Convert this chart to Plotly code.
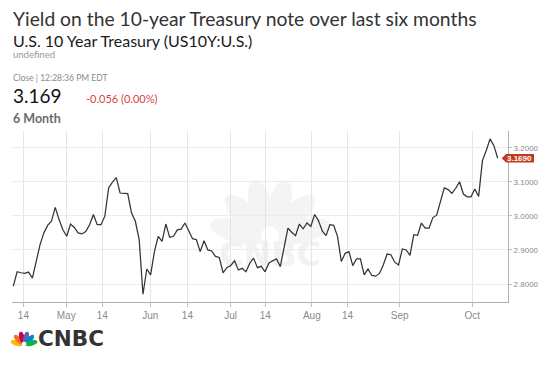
import math
import plotly.graph_objects as go

# ---------------- data ----------------
yields = [
    2.794, 2.836, 2.833, 2.831, 2.835, 2.817, 2.866, 2.915, 2.950, 2.972,
    2.984, 3.025, 2.989, 2.959, 2.940, 2.976, 2.966, 2.950, 2.947, 2.954,
    2.974, 3.004, 2.974, 2.974, 2.999, 3.082, 3.099, 3.112, 3.067, 3.066,
    3.065, 3.008, 2.984, 2.930, 2.770, 2.844, 2.827, 2.895, 2.940, 2.925,
    2.976, 2.937, 2.940, 2.959, 2.961, 2.979, 2.954, 2.933, 2.930, 2.895,
    2.927, 2.900, 2.897, 2.881, 2.878, 2.833, 2.848, 2.854, 2.868, 2.841,
    2.846, 2.836, 2.861, 2.876, 2.848, 2.852, 2.836, 2.861, 2.868, 2.874,
    2.851, 2.910, 2.964, 2.952, 2.942, 2.976, 2.962, 2.979, 2.969, 3.004,
    2.986, 2.956, 2.942, 2.974, 2.972, 2.940, 2.866, 2.890, 2.895, 2.854,
    2.874, 2.874, 2.827, 2.844, 2.825, 2.823, 2.831, 2.856, 2.888, 2.886,
    2.864, 2.856, 2.903, 2.900, 2.884, 2.945, 2.943, 2.979, 2.964, 2.964,
    2.995, 3.002, 3.041, 3.082, 3.077, 3.066, 3.081, 3.100, 3.064, 3.056,
    3.056, 3.079, 3.057, 3.162, 3.192, 3.226, 3.206, 3.169,
]
session_index = list(range(len(yields)))

x_tick_labels = ["14", "May", "14", "Jun", "14", "Jul", "14", "Aug", "14", "Sep", "Oct"]
x_tick_index = [2.65, 13.87, 23.33, 35.92, 45.65, 56.95, 66.05, 78.27, 87.63, 101.32, 120.33]
y_tick_values = [2.8, 2.9, 3.0, 3.1, 3.2]

last_close = 3.169
change_text = "-0.056 (0.00%)"

# ---------------- geometry ----------------
# the page body keeps the browser's default 8px margin, so the figure is
# slightly smaller than the window and page coordinates are offset by 8px
OFF = 8
W, H = 542, 361
ML, MR, MT, MB = 4, 42, 123, 67
PW, PH = W - ML - MR, H - MT - MB
X_RANGE = [-0.34, 129.7]
Y_RANGE = [2.7472, 3.249]


def X(px):
    return (px - OFF - ML) / PW


def Y(py):
    return (H - MB - (py - OFF)) / PH


def petal_path(cx, cy, ang_deg, d, a, b, n=28):
    t = math.radians(ang_deg)
    ex, ey = cx + d * math.cos(t), cy - d * math.sin(t)
    pts = []
    for k in range(n):
        u = 2 * math.pi * k / n
        lx, ly = a * math.cos(u), b * math.sin(u)
        px = ex + lx * math.cos(t) - ly * math.sin(t)
        py = ey - (lx * math.sin(t) + ly * math.cos(t))
        pts.append((X(px), Y(py)))
    return "M " + " L ".join(f"{p[0]:.5f},{p[1]:.5f}" for p in pts) + " Z"


def ellipse_path(cx, cy, rx, ry, n=24):
    pts = [(X(cx + rx * math.cos(2 * math.pi * k / n)),
            Y(cy + ry * math.sin(2 * math.pi * k / n))) for k in range(n)]
    return "M " + " L ".join(f"{p[0]:.5f},{p[1]:.5f}" for p in pts) + " Z"


fig = go.Figure()
fig.add_trace(go.Scatter(
    x=session_index, y=yields, mode="lines",
    line=dict(color="#333333", width=1.25),
    hoverinfo="skip", showlegend=False,
))

shapes = []
# faint watermark peacock + wordmark (kept below the line)
for ang in [165, 135, 105, 75, 45, 15]:
    shapes.append(dict(type="path", xref="paper", yref="paper", layer="below",
                       path=petal_path(270, 240, ang, 33, 29, 11.5),
                       fillcolor="#f4f4f4", line=dict(width=0)))
shapes.append(dict(type="path", xref="paper", yref="paper", layer="below",
                   path=ellipse_path(270, 236, 9, 9), fillcolor="#ffffff", line=dict(width=0)))
shapes.append(dict(type="rect", xref="paper", yref="paper", layer="below",
                   x0=X(200), x1=X(340), y0=Y(266), y1=Y(238),
                   fillcolor="rgba(0,0,0,0)", line=dict(width=0),
                   label=dict(text="<b>CNBC</b>", textposition="middle center",
                              font=dict(size=33, color="#f2f2f2",
                                        family="'DejaVu Sans', Arial, sans-serif"))))

# CNBC logo peacock (bottom left)
logo_colors = ["#fcb711", "#f37021", "#cc004c", "#6460aa", "#0089d0", "#0db14b"]
for ang, col in zip([165, 135, 105, 75, 45, 15], logo_colors):
    shapes.append(dict(type="path", xref="paper", yref="paper", layer="above",
                       path=petal_path(24, 345, ang, 7.4, 6.4, 2.7),
                       fillcolor=col, line=dict(width=0)))
shapes.append(dict(type="path", xref="paper", yref="paper", layer="above",
                   path=ellipse_path(24, 344, 2.3, 2.3), fillcolor="#ffffff", line=dict(width=0)))

# last value tag on the right axis
half = 4.2 / (PH / (Y_RANGE[1] - Y_RANGE[0]))
yv = yields[-1]
tag_path = (f"M {X(501.7):.5f},{yv:.5f} L {X(506):.5f},{yv + half:.5f} "
            f"L {X(534):.5f},{yv + half:.5f} L {X(534):.5f},{yv - half:.5f} "
            f"L {X(506):.5f},{yv - half:.5f} Z")
shapes.append(dict(type="path", xref="paper", yref="y", layer="above",
                   path=tag_path, fillcolor="#c23a1c", line=dict(width=0)))

FONT = "Lato, 'Open Sans', Arial, sans-serif"
ann = []


def text(x, y, s, size, color, weight="normal", family=FONT, anchor="left"):
    ann.append(dict(x=X(x), y=Y(y), xref="paper", yref="paper", text=s,
                    showarrow=False, xanchor=anchor, yanchor="middle",
                    font=dict(size=size, color=color, family=family, weight=weight)))


text(11, 18.5, "Yield on the 10-year Treasury note over last six months", 19.3, "#333333")
text(11, 40, "U.S. 10 Year Treasury (US10Y:U.S.)", 16, "#1a1a1a")
text(11, 54.5, "undefined", 9.5, "#9a9a9a")
text(11, 78.5, "Close | 12:28:36 PM EDT", 8.5, "#8a8a8a")
text(11, 95, f"{last_close:.3f}", 19, "#111111")
text(84, 98.5, change_text, 11, "#d6453d")
text(11, 118, "6 Month", 12.5, "#6a6a6a", weight="bold")
text(36, 338.5, "<b>CNBC</b>", 21.5, "#333333", family="'DejaVu Sans', Arial, sans-serif")

ann.append(dict(x=X(519.5), y=yv, xref="paper", yref="y", text=f"<b>{yv:.4f}</b>",
                showarrow=False, xanchor="center", yanchor="middle",
                font=dict(size=8, color="#ffffff", family="Arial, sans-serif")))

fig.update_layout(
    width=W, height=H,
    margin=dict(l=ML, r=MR, t=MT, b=MB, pad=0),
    paper_bgcolor="#ffffff", plot_bgcolor="#ffffff",
    shapes=shapes, annotations=ann,
    showlegend=False,
    xaxis=dict(range=X_RANGE, tickmode="array", tickvals=x_tick_index, ticktext=x_tick_labels,
               showgrid=True, gridcolor="#e4e4e4", gridwidth=1, zeroline=False,
               showline=True, linecolor="#b0b0b0", linewidth=1,
               ticks="outside", ticklen=4, tickcolor="#c0c0c0",
               tickfont=dict(size=10, color="#8a8a8a", family="Arial, sans-serif"),
               fixedrange=True),
    yaxis=dict(range=Y_RANGE, side="right", tickmode="array", tickvals=y_tick_values,
               tickformat=".4f", showgrid=True, gridcolor="#ececec", gridwidth=1,
               zeroline=False, showline=True, linecolor="#b0b0b0", linewidth=1,
               ticks="outside", ticklen=3, tickcolor="#c0c0c0",
               tickfont=dict(size=8, color="#8a8a8a", family="Arial, sans-serif"),
               fixedrange=True),
)

fig.write_html("out.html", config={"displayModeBar": False})
